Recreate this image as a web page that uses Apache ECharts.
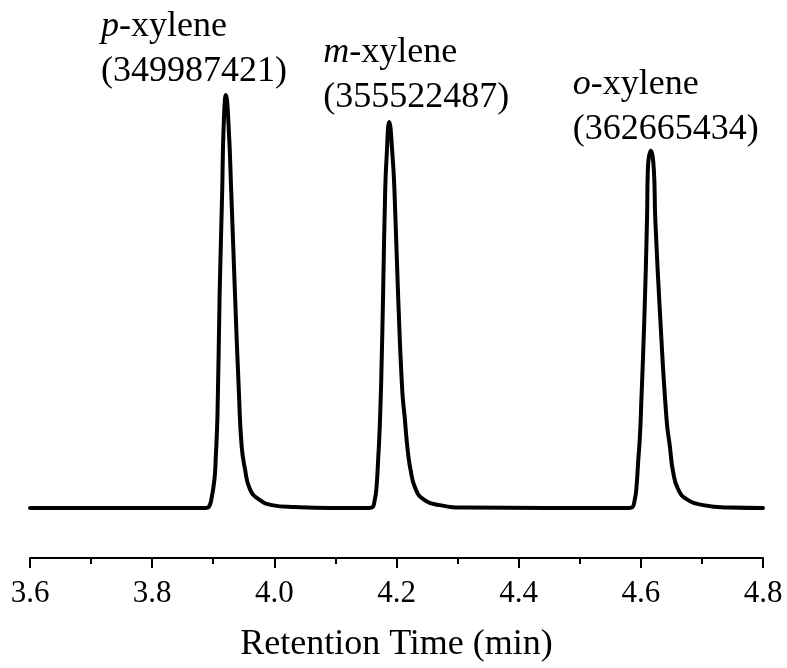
<!DOCTYPE html>
<html>
	<head>
		<meta charset="utf-8">
		<title>xylene chromatogram</title>
		<script src="https://cdn.jsdelivr.net/npm/echarts@6/dist/echarts.min.js"></script>
	</head>
	<body style="margin: 0;">
		<div id="box" style="width: 787px;height: 668px;"></div>
		<script>

			var mCharts = echarts.init(document.querySelector('#box'))

			// 保留时间 (min) 和 信号 (读图估计, 任意单位)
			var pTime = [3.6, 3.878, 3.888, 3.893, 3.897, 3.902, 3.904, 3.907, 3.9105, 3.9146, 3.917, 3.9208, 3.9252, 3.9295, 3.9355, 3.942, 3.9465, 3.952, 3.960, 3.974, 3.996, 4.034, 4.091]
			var pSignal = [0, 0, 0, 1.5, 9, 29, 49, 95, 216, 316, 382, 414, 382, 316, 216, 116, 62, 39, 19, 9, 3, 1, 0]

			var mTime = [4.1483, 4.1593, 4.1646, 4.1674, 4.1700, 4.1725, 4.1750, 4.1782, 4.1815, 4.1838, 4.1881, 4.1936, 4.1966, 4.2023, 4.2093, 4.2137, 4.2165, 4.2195, 4.2228, 4.2301, 4.2437, 4.2710, 4.3147]
			var mSignal = [0, 0.5, 9, 22, 49, 80, 128, 219, 319, 352, 387, 352, 319, 219, 119, 89, 69, 52, 39, 21, 9, 3, 0.5]

			var oTime = [4.5738, 4.5848, 4.5902, 4.5930, 4.5956, 4.5985, 4.6010, 4.6057, 4.6101, 4.6115, 4.6164, 4.6213, 4.6237, 4.6319, 4.6421, 4.6475, 4.6529, 4.6610, 4.6748, 4.7020, 4.7457, 4.8]
			var oSignal = [0, 0.5, 9, 22, 46, 72, 110, 189, 289, 339, 358, 339, 289, 189, 89, 62, 36, 19, 9, 3, 0.5, 0]

			// 峰名 和 峰面积
			var peakPrefix = ['p', 'm', 'o']
			var peakArea = ['349987421', '355522487', '362665434']

			// x 轴刻度
			var xTicks = [3.6, 3.8, 4.0, 4.2, 4.4, 4.6, 4.8]

			var font = '"Liberation Serif", "Times New Roman", serif'

			function toPairs(t, s) {
				return t.map(function(v, i) { return [v, s[i]] })
			}

			function apex(t, s) {
				var k = s.indexOf(Math.max.apply(null, s))
				return [t[k], s[k]]
			}

			var trace = toPairs(pTime, pSignal).concat(toPairs(mTime, mSignal), toPairs(oTime, oSignal))
			var apexes = [apex(pTime, pSignal), apex(mTime, mSignal), apex(oTime, oSignal)]

			// 标签相对峰顶的偏移 (像素)
			var labelShift = [[-125, -1], [-66, -2], [-78, 1]]

			var labelData = apexes.map(function(a, i) {
				return {
					value: a,
					label: {
						offset: labelShift[i],
						formatter: '{i|' + peakPrefix[i] + '}{n|-xylene}\n{n|(' + peakArea[i] + ')}'
					}
				}
			})

			var option = {
				animation: false,
				grid: {
					left: 30,
					right: 24,
					top: 60,
					bottom: 109
				},
				xAxis: {
					type: 'value',
					min: xTicks[0],
					max: xTicks[xTicks.length - 1],
					interval: 0.2,
					name: 'Retention Time (min)',
					nameLocation: 'middle',
					nameGap: 69,
					nameTextStyle: {
						fontFamily: font,
						fontSize: 36,
						color: '#000'
					},
					axisLine: {
						onZero: false,
						lineStyle: { color: '#000', width: 2 }
					},
					axisTick: {
						length: 10,
						lineStyle: { color: '#000', width: 2 }
					},
					minorTick: {
						show: true,
						splitNumber: 2,
						length: 6,
						lineStyle: { color: '#000', width: 2 }
					},
					splitLine: { show: false },
					axisLabel: {
						margin: 20,
						fontFamily: font,
						fontSize: 31,
						color: '#000',
						formatter: function(v) { return v.toFixed(1) }
					}
				},
				yAxis: {
					type: 'value',
					min: -50,
					max: 449,
					show: false
				},
				series: [
					{
						type: 'line',
						data: trace,
						showSymbol: false,
						smooth: 0.5,
						lineStyle: { color: '#000', width: 4, join: 'round', cap: 'round' }
					},
					{
						// 峰标注
						type: 'scatter',
						data: labelData,
						symbolSize: 0,
						silent: true,
						itemStyle: { opacity: 1 },
						label: {
							show: true,
							position: 'top',
							distance: 0,
							align: 'left',
							verticalAlign: 'bottom',
							lineHeight: 45,
							color: '#000',
							opacity: 1,
							rich: {
								i: { fontFamily: font, fontSize: 36, fontStyle: 'italic', color: '#000', lineHeight: 45 },
								n: { fontFamily: font, fontSize: 36, color: '#000', lineHeight: 45 }
							}
						}
					}
				]
			}
			mCharts.setOption(option)

		</script>
	</body>
</html>
